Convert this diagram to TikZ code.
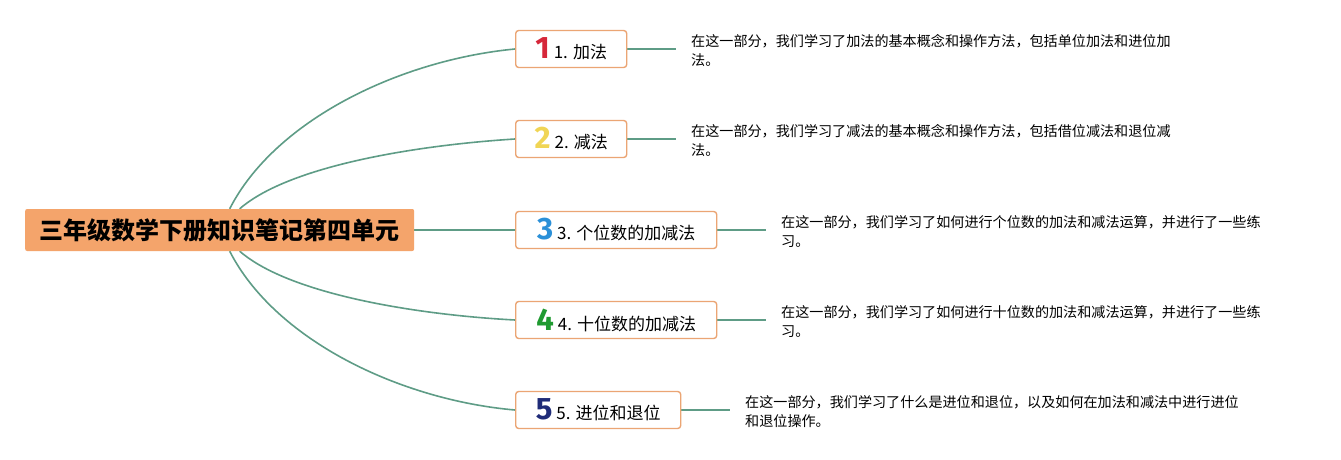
\documentclass[tikz,border=0pt]{standalone}
\usepackage{fontspec}
\setmainfont{Noto Sans CJK SC}
\newfontfamily\digitfont{Fira Sans}
\usetikzlibrary{calc,backgrounds}
\definecolor{linec}{HTML}{5E9C86}
\definecolor{titlefill}{HTML}{F4A46B}
\definecolor{boxdraw}{HTML}{EBA574}
\definecolor{dred}{HTML}{D6273A}
\definecolor{dyellow}{HTML}{F0D555}
\definecolor{dblue}{HTML}{2B90D8}
\definecolor{dgreen}{HTML}{1F9A30}
\definecolor{dnavy}{HTML}{1F2B78}
\tikzset{
  titlebox/.style={fill=titlefill, draw=none, rounded corners=2pt, minimum height=42, inner sep=0pt, anchor=west, font=\fontsize{24}{28}\selectfont\bfseries},
  childbox/.style={fill=white, draw=boxdraw, line width=1.4pt, rounded corners=3pt, minimum height=37, inner sep=0pt, anchor=west, font=\fontsize{17}{20}\selectfont},
  desc/.style={anchor=west, inner xsep=15, inner ysep=0, align=left, font=\fontsize{14.1}{19}\selectfont},
  conn/.style={draw=linec, line width=1.6pt},
}
\newcommand{\dig}[2]{{\digitfont\bfseries\fontsize{31}{31}\selectfont\textcolor{#1}{#2}}\hspace{4pt}}
\begin{document}
\begin{tikzpicture}[x=1pt,y=-1pt]
\useasboundingbox (0,0) rectangle (1341,460);
\node[titlebox, minimum width=389] (c) at (25,230) {三年级数学下册知识笔记第四单元};
\node[childbox, minimum width=111] (n1) at (515,49) {\dig{dred}{1}1. 加法};
\node[childbox, minimum width=111] (n2) at (515,139) {\dig{dyellow}{2}2. 减法};
\node[childbox, minimum width=201] (n3) at (515,230) {\dig{dblue}{3}3. 个位数的加减法};
\node[childbox, minimum width=201] (n4) at (515,320) {\dig{dgreen}{4}4. 十位数的加减法};
\node[childbox, minimum width=165] (n5) at (515,410) {\dig{dnavy}{5}5. 进位和退位};
\node[desc] (d1) at (676,51) {在这一部分，我们学习了加法的基本概念和操作方法，包括单位加法和进位加\\法。};
\node[desc] (d2) at (676,141) {在这一部分，我们学习了减法的基本概念和操作方法，包括借位减法和退位减\\法。};
\node[desc] (d3) at (766,232) {在这一部分，我们学习了如何进行个位数的加法和减法运算，并进行了一些练\\习。};
\node[desc] (d4) at (766,322) {在这一部分，我们学习了如何进行十位数的加法和减法运算，并进行了一些练\\习。};
\node[desc] (d5) at (730,412) {在这一部分，我们学习了什么是进位和退位，以及如何在加法和减法中进行进位\\和退位操作。};
\coordinate (t1) at ([xshift=10]c.north);
\coordinate (t2) at ([xshift=20]c.north);
\coordinate (b1) at ([xshift=10]c.south);
\coordinate (b2) at ([xshift=20]c.south);
\begin{scope}[on background layer]
\fill[white] (0,0) rectangle (1341,460);
\draw[conn] (t1) .. controls (275,120) and (400,60) .. (n1.west);
\draw[conn] (t2) .. controls (290,165) and (420,145) .. (n2.west);
\draw[conn] (c.east) -- (n3.west);
\draw[conn] (b2) .. controls (290,295) and (420,315) .. (n4.west);
\draw[conn] (b1) .. controls (275,340) and (400,400) .. (n5.west);
\draw[conn] (n1.east) -- (n1.east -| d1.west);
\draw[conn] (n2.east) -- (n2.east -| d2.west);
\draw[conn] (n3.east) -- (n3.east -| d3.west);
\draw[conn] (n4.east) -- (n4.east -| d4.west);
\draw[conn] (n5.east) -- (n5.east -| d5.west);
\end{scope}
\end{tikzpicture}
\end{document}
